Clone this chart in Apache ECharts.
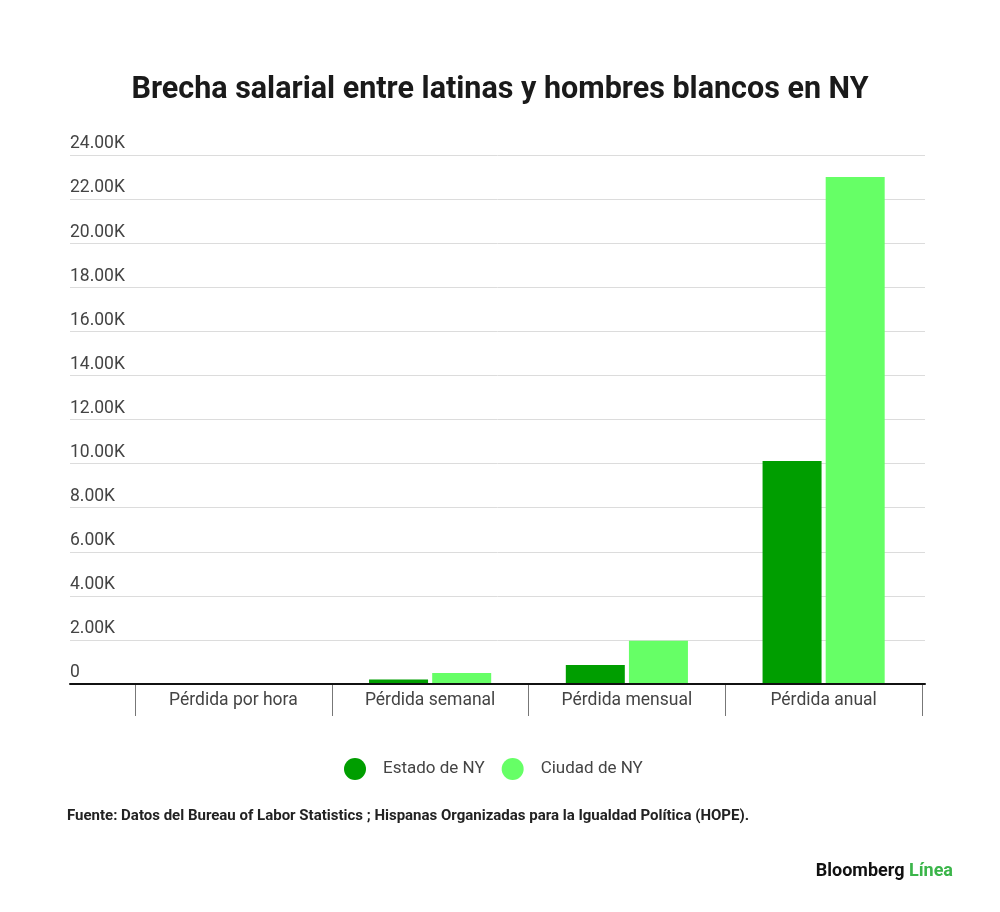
<!DOCTYPE html>
<html><head><meta charset="utf-8">
<script src="https://cdn.jsdelivr.net/npm/echarts@6/dist/echarts.min.js"></script>
<style>html,body{margin:0;padding:0;background:#fff}#c{width:1000px;height:912px}</style>
</head><body><div id="c"></div>
<script>
const categories = ['Pérdida por hora', 'Pérdida semanal', 'Pérdida mensual', 'Pérdida anual'];
const estadoNY = [5, 200, 860, 10120];
const ciudadNY = [11, 500, 1960, 23000];
const seriesNames = ['Estado de NY', 'Ciudad de NY'];
const yMin = 0, yMax = 24000, yStep = 2000;

const FONT = 'Roboto';
const chart = echarts.init(document.getElementById('c'), null, {renderer: 'canvas'});
const fmt = v => v === 0 ? '0' : (v / 1000).toFixed(2) + 'K';
chart.setOption({
  backgroundColor: '#fff',
  textStyle: {fontFamily: FONT},
  title: [
    {text: 'Brecha salarial entre latinas y hombres blancos en NY', left: 'center', top: 70,
     textStyle: {fontFamily: FONT, fontWeight: 'bold', fontSize: 30.5, color: '#1a1a1a'}},
    {text: 'Fuente: Datos del Bureau of Labor Statistics ; Hispanas Organizadas para la Igualdad Política (HOPE).',
     left: 62, top: 804, textStyle: {fontFamily: FONT, fontWeight: 'bold', fontSize: 15, color: '#222'}},
    {text: '{a|Bloomberg} {b|Línea}', right: 42, top: 857,
     textStyle: {rich: {a: {fontFamily: FONT, fontWeight: 'bold', fontSize: 18, color: '#111'},
                        b: {fontFamily: FONT, fontWeight: 'bold', fontSize: 18, color: '#3bb54a'}}}}
  ],
  legend: {
    data: seriesNames, left: 339, top: 753, icon: 'circle', itemWidth: 22, itemHeight: 22, itemGap: 17,
    textStyle: {fontFamily: FONT, fontSize: 17, color: '#444', padding: [0, 0, 0, 12]}
  },
  grid: [
    {left: 70, right: 75, top: 155, bottom: 228},
    {left: 135, right: 78, top: 155, bottom: 228}
  ],
  xAxis: [
    {type: 'category', gridIndex: 0, data: [''], axisLine: {lineStyle: {color: '#111', width: 2}},
     axisTick: {show: false}, axisLabel: {show: false}, z: 10},
    {type: 'category', gridIndex: 1, data: categories, axisLine: {show: false},
     axisTick: {show: true, length: 32, lineStyle: {color: '#777', width: 1}},
     axisLabel: {margin: 8, fontFamily: FONT, fontSize: 17.5, color: '#444'}}
  ],
  yAxis: [
    {type: 'value', gridIndex: 0, min: yMin, max: yMax, interval: yStep,
     axisLine: {show: false}, axisTick: {show: false},
     splitLine: {lineStyle: {color: '#dcdcdc', width: 1}},
     axisLabel: {inside: true, margin: 0, verticalAlign: 'bottom', padding: [0, 0, 2, 0],
                 formatter: fmt, fontFamily: FONT, fontSize: 17.5, color: '#444'}},
    {type: 'value', gridIndex: 1, min: yMin, max: yMax, interval: yStep, show: false, splitLine: {show: false}}
  ],
  series: [
    {name: seriesNames[0], type: 'bar', xAxisIndex: 1, yAxisIndex: 1, data: estadoNY,
     barWidth: 59, barGap: '7%', itemStyle: {color: '#009e00'}},
    {name: seriesNames[1], type: 'bar', xAxisIndex: 1, yAxisIndex: 1, data: ciudadNY,
     barWidth: 59, barGap: '7%', itemStyle: {color: '#66ff66'}}
  ]
});
</script></body></html>
